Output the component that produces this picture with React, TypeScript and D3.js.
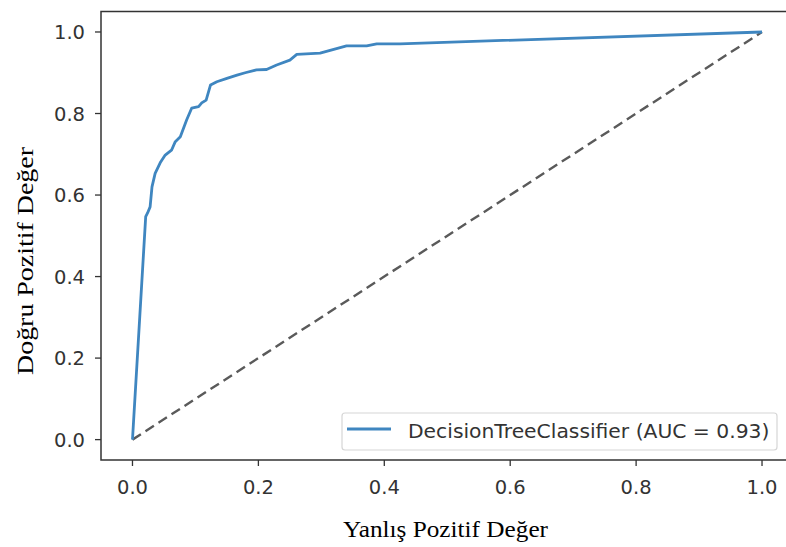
import React from 'react'
import * as d3 from 'd3'

// ROC curve points
const fpr = [0, 0.021, 0.024, 0.028, 0.031, 0.036, 0.044, 0.052, 0.062, 0.068, 0.076, 0.086, 0.094, 0.105, 0.11, 0.117, 0.124, 0.134, 0.15, 0.166, 0.179, 0.197, 0.213, 0.229, 0.25, 0.261, 0.298, 0.34, 0.372, 0.388, 0.425, 1]
const tpr = [0, 0.547, 0.556, 0.571, 0.62, 0.653, 0.679, 0.698, 0.71, 0.731, 0.743, 0.784, 0.813, 0.817, 0.826, 0.833, 0.87, 0.878, 0.886, 0.894, 0.9, 0.907, 0.908, 0.919, 0.931, 0.945, 0.948, 0.966, 0.966, 0.971, 0.971, 1]
const chance = [0, 1]
const ticks = [0, 0.2, 0.4, 0.6, 0.8, 1.0]
const legendLabel = 'DecisionTreeClassifier (AUC = 0.93)'
const xLabel = 'Yanlış Pozitif Değer'
const yLabel = 'Doğru Pozitif Değer'

const W = 786
const H = 547
const tickFont = 'DejaVu Sans, sans-serif'
const labelFont = 'Liberation Serif, Times New Roman, serif'

export default function App () {
  const x = d3.scaleLinear().domain([-0.05, 1.05]).range([101, 793.5])
  const y = d3.scaleLinear().domain([-0.05, 1.05]).range([460, 11.6])

  const roc = d3.line<number>()
    .x(d => x(fpr[d]))
    .y(d => y(tpr[d]))
  const diag = d3.line<number>()
    .x(d => x(d))
    .y(d => y(d))

  const left = x(-0.05)
  const bottom = y(-0.05)
  const top = y(1.05)

  return (
    <svg width={W} height={H} style={{ position: 'absolute', left: 0, top: 0, background: '#fff' }}>
      <rect width={W} height={H} fill='#fff' />
      <path d={diag(chance) || ''} fill='none' stroke='#5a5a5a' strokeWidth={2.4} strokeDasharray='10,5.5' />
      <path d={roc(d3.range(fpr.length)) || ''} fill='none' stroke='#3f86c0' strokeWidth={2.8} strokeLinejoin='round' />

      {/* spines */}
      <path d={`M${W + 5},${top}H${left}V${bottom}H${W + 5}`} fill='none' stroke='#333' strokeWidth={1.5} />

      {ticks.map(t => (
        <g key={'x' + t}>
          <line x1={x(t)} x2={x(t)} y1={bottom} y2={bottom + 6} stroke='#333' strokeWidth={1.3} />
          <text x={x(t)} y={bottom + 33.5} textAnchor='middle' fontFamily={tickFont} fontSize={19.5} fill='#333'>{t.toFixed(1)}</text>
        </g>
      ))}
      {ticks.map(t => (
        <g key={'y' + t}>
          <line x1={left - 6} x2={left} y1={y(t)} y2={y(t)} stroke='#333' strokeWidth={1.3} />
          <text x={left - 16} y={y(t)} dy='0.36em' textAnchor='end' fontFamily={tickFont} fontSize={19.5} fill='#333'>{t.toFixed(1)}</text>
        </g>
      ))}

      {/* legend */}
      <rect x={342} y={413} width={435} height={37} rx={3} fill='#fff' stroke='#d6d6d6' strokeWidth={1.2} />
      <line x1={347} x2={391} y1={429} y2={429} stroke='#3f86c0' strokeWidth={2.8} />
      <text x={408} y={438} fontFamily={tickFont} fontSize={20.3} fill='#333'>{legendLabel}</text>

      <text x={445.5} y={537} textAnchor='middle' fontFamily={labelFont} fontSize={23} textLength={205} lengthAdjust='spacingAndGlyphs' fill='#000'>{xLabel}</text>
      <text transform={`translate(33,261) rotate(-90)`} textAnchor='middle' fontFamily={labelFont} fontSize={24} textLength={228} lengthAdjust='spacingAndGlyphs' fill='#000'>{yLabel}</text>
    </svg>
  )
}
